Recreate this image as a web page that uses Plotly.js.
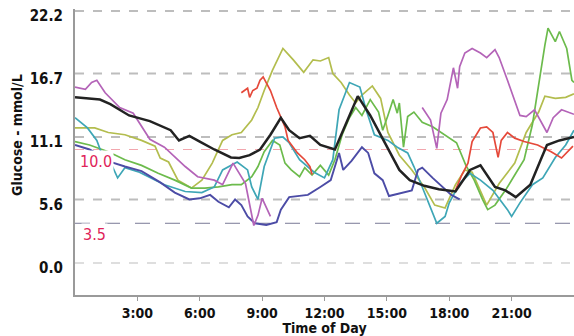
<!DOCTYPE html>
<html><head><meta charset="utf-8">
<script src="https://cdn.plot.ly/plotly-3.0.1.min.js"></script>
<style>html,body{margin:0;padding:0;background:#fff}#c{width:574px;height:336px}</style>
</head><body><div id="c"></div>
<script>
// ---- data (hour of day, glucose mmol/L) ----
const yTickVals = [0.0, 5.6, 11.1, 16.7, 22.2];
const yTickText = ["0.0", "5.6", "11.1", "16.7", "22.2"];
const xTickVals = [3, 6, 9, 12, 15, 18, 21];
const xTickText = ["3:00", "6:00", "9:00", "12:00", "15:00", "18:00", "21:00"];
const upperTarget = 10.0;
const lowerTarget = 3.5;

const blackHours = [0,1.2,1.7,2.6,3.6,4.6,5.0,5.5,6.0,6.7,7.5,7.9,8.4,8.9,9.4,9.9,10.3,10.8,11.3,11.8,12.5,13.0,13.6,14.2,14.7,15.1,15.6,16.1,16.8,17.5,18.3,19.0,19.5,20.2,20.7,21.2,21.9,22.4,22.7,23.3,24];
const blackGlucose = [14.6,14.4,14.0,13.0,12.5,11.7,10.8,11.2,10.7,10.0,9.3,9.25,9.5,10.0,11.3,12.8,11.7,11.0,11.2,10.4,10.0,12.2,14.7,13.0,11.3,10.0,8.2,7.3,6.8,6.5,6.3,8.2,8.6,6.7,6.4,5.8,6.9,9.1,10.4,10.8,11.1];

const magentaHours = [0,0.5,0.8,1.05,1.45,2.15,2.8,3.6,4.3,5.3,5.9,6.7,7.1,7.6,8.2,8.4,8.6,8.8,9.0,9.4,null,16.7,17.1,17.4,17.6,17.9,18.2,18.4,18.5,18.75,19.1,19.5,19.8,20.2,20.4,20.8,21.1,21.4,21.7,22.1,22.7,23.0,23.4,24];
const magentaGlucose = [15.5,15.3,15.9,16.1,15.0,13.7,13.2,10.9,10.2,8.5,7.6,7.3,6.9,8.8,7.0,5.1,3.3,4.2,5.7,4.1,null,13.7,12.6,10.1,13.2,14.4,17.2,15.4,17.3,18.5,18.9,18.5,18.1,18.8,18.1,16.1,14.6,13.0,12.9,13.5,11.5,12.8,13.5,13.1];

const blueHours = [0,0.7,1.2,1.7,2.4,3.2,4.1,4.8,5.5,6.0,6.5,6.9,7.4,7.7,8.0,8.3,8.65,9.2,9.7,9.9,10.3,11.2,11.8,12.3,12.6,12.7,12.9,13.3,13.8,14.1,14.4,14.8,15.1,15.7,16.2,16.5,16.7,17.2,17.7,18.1,18.5];
const blueGlucose = [10.4,10.0,9.5,8.9,8.5,8.1,7.1,6.2,5.6,5.7,6.0,5.4,4.9,5.6,5.1,4.1,3.5,3.35,3.6,4.7,5.8,6.0,6.7,7.3,9.1,9.7,8.2,9.0,10.2,9.7,7.9,7.3,5.9,6.2,6.4,8.2,8.4,7.5,6.7,6.0,5.6];

const tealHours = [0,0.6,1.05,1.35,1.7,2.05,2.4,3.1,4.3,5.3,6.1,6.7,7.1,7.5,7.8,8.3,8.5,8.8,9.1,9.6,10.0,10.3,10.8,11.5,12.0,12.4,12.7,13.2,13.7,14.0,14.4,15.05,15.5,16.0,16.3,16.7,17.0,17.4,17.8,18.0,18.5,19.0,19.5,20.1,20.8,21.0,21.4,22.0,22.5,23.1,23.6,24];
const tealGlucose = [12.8,11.9,10.8,9.3,8.9,7.5,8.4,8.0,6.9,6.3,6.2,6.7,8.2,8.6,8.9,8.2,6.7,5.6,8.5,11.0,11.1,10.6,9.1,8.0,7.5,9.1,13.5,15.9,15.5,13.5,11.3,10.8,10.2,9.7,8.5,6.7,5.3,3.5,4.1,5.3,7.0,7.9,7.3,6.4,4.7,4.1,5.3,6.9,7.5,9.3,10.4,11.7];

const oliveHours = [0,0.95,1.6,2.4,3.2,3.85,4.1,4.5,4.95,5.3,5.6,6.1,6.6,7.1,7.55,8.0,8.5,8.8,9.1,9.5,10.0,10.5,11.0,11.45,11.8,12.2,12.4,12.8,13.2,13.5,13.8,14.3,14.7,15.05,15.6,16.2,16.8,17.3,17.8,18.3,18.75,19.1,19.5,19.8,20.4,21.15,21.7,22.3,22.6,23.1,23.6,24];
const oliveGlucose = [11.9,11.9,11.5,11.3,10.8,10.3,9.25,8.9,7.3,6.9,6.6,7.3,8.8,10.8,11.3,11.5,12.6,13.7,15.2,17.0,18.9,17.9,16.8,17.9,17.8,18.1,16.7,15.9,14.8,14.1,14.8,15.6,14.5,11.5,9.5,8.2,6.7,5.1,4.85,6.9,8.2,8.0,6.4,5.1,7.0,8.8,11.5,13.3,14.7,14.5,14.6,14.9];

const greenHours = [0,0.7,1.6,2.4,3.2,4.0,4.8,5.6,6.25,6.9,7.55,8.0,8.5,8.8,9.1,9.5,9.85,10.1,10.4,10.8,11.05,11.4,11.8,12.2,12.5,12.85,13.2,13.5,13.8,14.2,14.6,14.8,15.05,15.3,15.5,15.6,15.8,16.0,16.3,16.7,17.2,17.9,18.35,18.8,19.2,19.6,19.85,20.2,20.7,21.15,21.6,22.0,22.3,22.6,22.75,23.1,23.3,23.65,23.9,24];
const greenGlucose = [10.7,10.4,9.8,9.1,8.6,7.9,7.3,6.6,6.6,6.7,6.9,6.9,7.6,8.5,9.8,10.8,10.4,8.8,8.2,7.6,8.4,7.75,8.6,7.75,9.1,11.3,12.8,13.7,13.0,14.4,13.3,11.7,13.0,14.4,13.2,14.1,10.2,12.9,13.3,12.4,12.0,11.1,10.6,8.6,7.3,5.6,4.7,5.1,6.4,7.75,9.1,12.2,15.9,19.2,20.7,19.5,20.4,18.9,16.1,15.9];

const redHours = [8.0,8.3,8.4,8.55,8.75,8.9,9.05,9.2,9.4,9.7,10.1,10.25,10.5,10.7,11.05,11.3,11.4,null,18.3,18.6,18.9,19.1,19.5,19.8,20.1,20.35,20.5,20.8,21.15,21.6,22.25,22.9,23.4,23.95];
const redGlucose = [15.0,15.4,14.6,15.2,15.4,16.1,16.4,15.9,15.2,13.7,12.0,10.8,10.2,9.7,9.1,8.5,7.8,null,6.4,7.75,8.8,10.7,11.9,12.0,11.5,9.3,10.8,11.5,11.0,10.7,10.4,9.8,9.25,10.3];

const series = [
  {x: oliveHours, y: oliveGlucose, color: '#b3bd4e', w: 1.7},
  {x: greenHours, y: greenGlucose, color: '#6cbb4c', w: 1.7},
  {x: tealHours, y: tealGlucose, color: '#3ea6b6', w: 1.7},
  {x: blueHours, y: blueGlucose, color: '#4c4ca6', w: 1.9},
  {x: magentaHours, y: magentaGlucose, color: '#b464b8', w: 1.7},
  {x: redHours, y: redGlucose, color: '#e5493a', w: 1.7},
  {x: blackHours, y: blackGlucose, color: '#222222', w: 2.5}
];

const traces = series.map(s => ({
  type: 'scatter', mode: 'lines', x: s.x, y: s.y,
  line: {color: s.color, width: s.w, shape: 'linear'},
  hoverinfo: 'skip', showlegend: false
}));

const font = "'Liberation Sans Narrow','Arial Narrow','DejaVu Sans Condensed',sans-serif";

const shapes = yTickVals.map((v, i) => ({
  type: 'line', xref: 'paper', x0: 0, x1: 1, yref: 'y', y0: v, y1: v,
  line: {color: i === 0 ? '#dedede' : '#bdbdbd', width: 2, dash: 'dash'}, layer: 'below'
}));
shapes.push({type: 'line', xref: 'paper', x0: 0, x1: 1, yref: 'y', y0: upperTarget, y1: upperTarget,
  line: {color: '#f2a7ae', width: 1, dash: 'dash'}, layer: 'below'});
shapes.push({type: 'line', xref: 'paper', x0: 0, x1: 1, yref: 'y', y0: lowerTarget, y1: lowerTarget,
  line: {color: '#7a7a96', width: 1, dash: 'longdash'}, layer: 'below'});

const layout = {
  width: 574, height: 336,
  margin: {l: 75, r: 0, t: 9, b: 41},
  paper_bgcolor: '#fff', plot_bgcolor: '#fff',
  showlegend: false,
  xaxis: {
    range: [0, 24], tickvals: xTickVals, ticktext: xTickText,
    showgrid: false, zeroline: false, showline: true, linecolor: '#9a9a9a', linewidth: 2,
    ticks: 'outside', ticklen: 4, tickcolor: '#9a9a9a',
    tickfont: {family: font, size: 14, color: '#111', weight: 'bold'},
    title: {text: 'Time of Day', font: {family: font, size: 14, color: '#111', weight: 'bold'}, standoff: 3}
  },
  yaxis: {
    range: [-2.82, 22.38], tickvals: yTickVals, ticktext: yTickText,
    showgrid: false, zeroline: false, showline: true, linecolor: '#9a9a9a', linewidth: 2,
    ticks: '', ticklabelshift: 5, ticklabelstandoff: 7,
    tickfont: {family: font, size: 15, color: '#111', weight: 'bold'}
  },
  shapes: shapes,
  annotations: [
    {text: 'Glucose - mmol/L', xref: 'paper', yref: 'paper', x: -0.116, y: 0.56, xanchor: 'center', yanchor: 'middle',
     textangle: -90, showarrow: false, font: {family: font, size: 14, color: '#111', weight: 'bold'}},
    {text: upperTarget.toFixed(1), xref: 'x', yref: 'y', x: 0.12, y: upperTarget, xanchor: 'left', yanchor: 'top',
     showarrow: false, bgcolor: '#ffffff', font: {family: font, size: 16, color: '#e0245a'}, borderpad: 1},
    {text: lowerTarget.toFixed(1), xref: 'x', yref: 'y', x: 0.3, y: lowerTarget, xanchor: 'left', yanchor: 'top',
     showarrow: false, bgcolor: '#ffffff', font: {family: font, size: 16, color: '#e0245a'}, borderpad: 1}
  ]
};

Plotly.newPlot('c', traces, layout, {staticPlot: true, displayModeBar: false});
</script></body></html>
